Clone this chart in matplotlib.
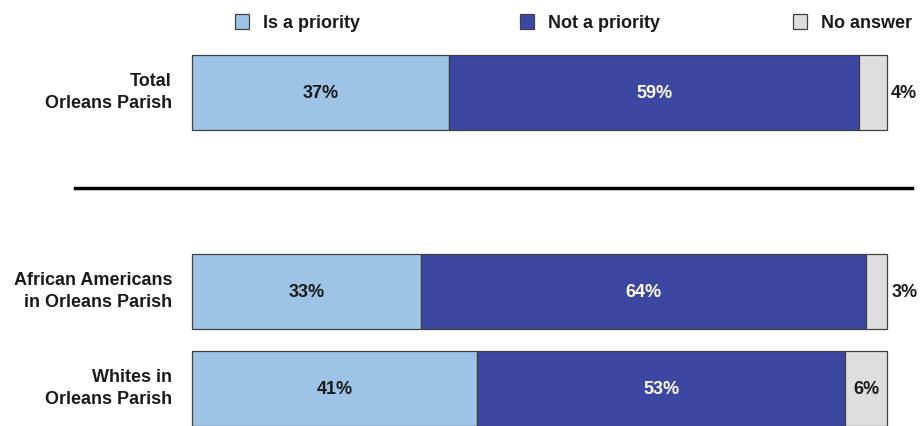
import matplotlib
matplotlib.use("Agg")
import matplotlib.pyplot as plt
from matplotlib.patches import Rectangle

groups = ["Total\nOrleans Parish", "African Americans\nin Orleans Parish", "Whites in\nOrleans Parish"]
is_priority = [37, 33, 41]
not_priority = [59, 64, 53]
no_answer = [4, 3, 6]
series_names = ["Is a priority", "Not a priority", "No answer"]

colors = ["#9DC3E6", "#3B47A0", "#DEDEDE"]
text_colors = ["#1a1a1a", "white", "#1a1a1a"]
edge = "#404040"

W, H = 922, 427
fig = plt.figure(figsize=(W / 100, H / 100), dpi=100)
plt.rcParams['font.family'] = ['Liberation Sans', 'DejaVu Sans']
FS = 13

# axes: x 0..100 mapped to pixels 192..887, y in pixel units from top
x0, x1 = 192, 887
ax = fig.add_axes([x0 / W, 0, (x1 - x0) / W, 1])
ax.set_xlim(0, 100)
ax.set_ylim(H, 0)
ax.axis("off")

ypos = [93.5, 292.5, 389.5]
bh = 75

for i, g in enumerate(groups):
    vals = [is_priority[i], not_priority[i], no_answer[i]]
    left = 0
    for k, v in enumerate(vals):
        ax.barh(ypos[i], v, left=left, height=bh, color=colors[k],
                edgecolor=edge, linewidth=0.9, clip_on=False)
        if k == 2 and v < 5:
            ax.text(left + v + 0.6, ypos[i], f"{v}%", ha="left", va="center",
                    fontsize=FS, fontweight="bold", color="#1a1a1a", clip_on=False)
        else:
            ax.text(left + v / 2, ypos[i], f"{v}%", ha="center", va="center",
                    fontsize=FS, fontweight="bold", color=text_colors[k])
        left += v
    fig.text(172 / W, 1 - (ypos[i] - 1) / H, g, ha="right", va="center",
             fontsize=FS, fontweight="bold", color="#1a1a1a", linespacing=1.33)

# separator line
fig.add_artist(plt.Line2D([75 / W, 912 / W], [1 - 189 / H, 1 - 189 / H],
                          color="black", linewidth=2.5))

# legend
leg_x = [235, 520, 793]
for k, name in enumerate(series_names):
    fig.add_artist(Rectangle((leg_x[k] / W, 1 - 30 / H), 14 / W, 15 / H,
                             facecolor=colors[k], edgecolor=edge, linewidth=0.9,
                             transform=fig.transFigure))
    fig.text((leg_x[k] + 28) / W, 1 - 23 / H, name, ha="left", va="center",
             fontsize=FS, fontweight="bold", color="#1a1a1a")

fig.savefig("out.png", dpi=100)
